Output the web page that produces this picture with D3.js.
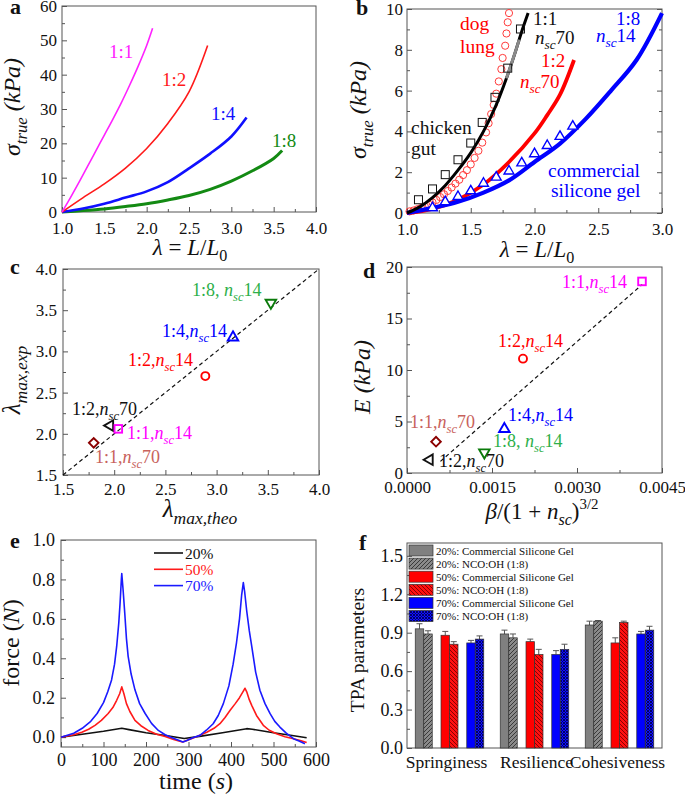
<!DOCTYPE html>
<html><head><meta charset="utf-8">
<script src="https://cdn.jsdelivr.net/npm/d3@7"></script>
<style>
body{margin:0;background:#fff;}
svg{display:block;}
text{font-family:"Liberation Serif","Times New Roman",serif;white-space:pre;}
</style></head><body>
<svg id="fig" width="685" height="799"></svg>
<script>
// ---------------- DATA ----------------
// Panel a: true stress vs stretch
const aCurve11 = [[1,0],[1.1,4.2],[1.2,8.6],[1.3,13.2],[1.4,17.8],[1.5,22.4],[1.6,27],[1.7,31.8],[1.8,37],[1.9,42.5],[2.0,48.5],[2.07,53.5]];
const aCurve12 = [[1,0],[1.25,4.2],[1.5,8.2],[1.75,12.8],[2.0,18.5],[2.25,25.8],[2.5,35],[2.72,48.5]];
const aCurve14 = [[1,0],[1.25,1],[1.5,2.4],[1.75,4.2],[2.0,6],[2.25,8.7],[2.5,12.7],[2.75,17],[3.0,22],[3.18,27.5]];
const aCurve18 = [[1,0],[1.25,0.4],[1.5,0.9],[1.75,1.6],[2.0,2.4],[2.25,3.5],[2.5,4.8],[2.75,6.6],[3.0,9],[3.25,12],[3.5,15.6],[3.6,17.9]];
const aXTicks = [1,1.5,2,2.5,3,3.5,4];
const aYTicks = [0,10,20,30,40,50,60];

// Panel b
const bChickenFit = [[1,0],[1.1,0.3],[1.2,0.75],[1.3,1.35],[1.4,2.1],[1.5,2.95],[1.6,4.0],[1.7,5.3],[1.78,6.6],[1.85,7.9],[1.88,8.5],[1.9,8.9],[1.95,9.8]];
const bChickenGray = [[1.78,6.6],[1.85,7.9],[1.88,8.5]];
const bChickenData = [[1.09,0.65],[1.2,1.18],[1.3,1.88],[1.4,2.61],[1.5,3.43],[1.59,4.44],[1.69,5.67],[1.79,7.1],[1.89,9.02]];
const bDogLung = [[1.02,0.08],[1.05,0.12],[1.08,0.18],[1.11,0.25],[1.14,0.32],[1.17,0.42],[1.2,0.52],[1.23,0.64],[1.26,0.78],[1.29,0.92],[1.32,1.08],[1.35,1.25],[1.38,1.44],[1.41,1.63],[1.44,1.86],[1.47,2.1],[1.5,2.38],[1.53,2.7],[1.56,3.05],[1.59,3.45],[1.62,3.95],[1.64,4.4],[1.66,4.85],[1.68,5.3],[1.7,5.85],[1.72,6.45],[1.74,7.05],[1.75,7.6],[1.77,8.2],[1.78,8.8],[1.79,9.35],[1.8,9.8]];
const bGel12 = [[1,0],[1.2,0.2],[1.4,0.65],[1.6,1.4],[1.8,2.5],[2.0,3.9],[2.1,4.8],[2.2,5.8],[2.31,7.5]];
const bGel18 = [[1,0],[1.2,0.25],[1.4,0.55],[1.6,1.0],[1.8,1.6],[2.0,2.5],[2.2,3.4],[2.4,4.6],[2.6,6.0],[2.8,7.5],[3.0,9.8]];
const bSilicone = [[1.2,0.25],[1.3,0.55],[1.4,0.8],[1.5,1.08],[1.6,1.45],[1.7,1.75],[1.8,2.05],[1.9,2.45],[2.0,2.9],[2.1,3.3],[2.2,3.75],[2.3,4.25]];
const bXTicks = [1,1.5,2,2.5,3];
const bYTicks = [0,2,4,6,8,10];

// Panel c / d : samples
const sampleNames = ['1:8, nsc14','1:4,nsc14','1:2,nsc14','1:2,nsc70','1:1,nsc14','1:1,nsc70'];
const cLambdaTheo = [3.53,3.16,2.89,1.96,2.04,1.80];
const cLambdaExp  = [3.59,3.17,2.70,2.10,2.06,1.89];
const cRefLine = [[1.5,1.5],[4,4]];
const cTicks = [1.5,2,2.5,3,3.5,4];
const dBeta = [0.001365,0.001718,0.002047,0.0004,0.004147,0.000512];
const dE    = [2.0,4.27,11.1,1.29,18.6,3.04];
const dFit  = [[0.00059,1.13],[0.00415,18.3]];
const dXTicks = [0,0.0015,0.003,0.0045];
const dYTicks = [0,5,10,15,20];

// Panel e: force vs time
const e20 = [[0,0],[50,0.015],[100,0.03],[143,0.045],[160,0.038],[200,0.022],[250,0.007],[290,-0.007],[330,0.005],[380,0.022],[437,0.043],[450,0.04],[500,0.022],[540,0.01],[578,-0.003]];
const e50 = [[0,0],[30,0.012],[49,0.025],[65,0.04],[80,0.06],[95,0.085],[111,0.12],[122,0.15],[131,0.187],[138,0.22],[143,0.255],[148,0.22],[154,0.17],[162,0.13],[174,0.085],[188,0.058],[205,0.034],[225,0.015],[245,0.003],[265,-0.012],[286,-0.025],[296,-0.017],[320,0.003],[343,0.025],[360,0.045],[374,0.068],[386,0.1],[398,0.136],[410,0.17],[420,0.2],[428,0.23],[433,0.248],[437,0.23],[443,0.19],[449,0.16],[460,0.11],[476,0.06],[490,0.035],[507,0.017],[527,0.002],[547,-0.008],[565,-0.018],[578,-0.027]];
const e70 = [[0,0],[30,0.02],[50,0.045],[70,0.08],[85,0.12],[100,0.175],[110,0.23],[119,0.29],[126,0.37],[131,0.46],[136,0.58],[139,0.68],[142,0.8],[143,0.83],[146,0.75],[150,0.63],[154,0.5],[158,0.41],[165,0.32],[174,0.24],[185,0.17],[198,0.12],[213,0.07],[229,0.034],[245,0.012],[260,-0.002],[275,-0.015],[287,-0.025],[296,-0.017],[310,-0.003],[327,0.009],[342,0.035],[358,0.068],[370,0.11],[382,0.17],[395,0.26],[405,0.37],[413,0.48],[420,0.6],[425,0.72],[429,0.784],[432,0.74],[437,0.64],[443,0.54],[449,0.458],[458,0.33],[468,0.238],[480,0.17],[492,0.119],[503,0.08],[515,0.051],[530,0.02],[547,-0.008],[560,-0.02],[574,-0.034]];
const eLegend = ['20%','50%','70%'];
const eXTicks = [0,100,200,300,400,500,600];
const eYTicks = [0,0.2,0.4,0.6,0.8,1.0];

// Panel f: TPA parameters
const fCategories = ['Springiness','Resilience','Cohesiveness'];
const fSeries = ['20%: Commercial Silicone Gel','20%: NCO:OH (1:8)','50%: Commercial Silicone Gel','50%: NCO:OH (1:8)','70%: Commercial Silicone Gel','70%: NCO:OH (1:8)'];
const tpa20CS  = [0.93,0.89,0.96], err20CS  = [0.04,0.03,0.03];
const tpa20NCO = [0.89,0.86,0.99], err20NCO = [0.025,0.03,0.005];
const tpa50CS  = [0.88,0.83,0.82], err50CS  = [0.03,0.02,0.04];
const tpa50NCO = [0.81,0.73,0.98], err50NCO = [0.02,0.04,0.01];
const tpa70CS  = [0.82,0.73,0.89], err70CS  = [0.02,0.03,0.02];
const tpa70NCO = [0.85,0.77,0.92], err70NCO = [0.025,0.04,0.03];
const fYTicks = [0,0.3,0.6,0.9,1.2,1.5];

// ---------------- DRAWING ----------------
const FONT = '"Liberation Serif","Times New Roman",serif';
const svg = d3.select('#fig');
const AX = '#555';

function range(a,b,s){const r=[];for(let v=a;v<=b+s/1000;v+=s)r.push(+v.toFixed(6));return r;}

function makePanel(o){
  const x = d3.scaleLinear().domain(o.xd).range([o.l,o.r]);
  const y = d3.scaleLinear().domain(o.yd).range([o.b,o.t]);
  const g = svg.append('g');
  const sty = s=>{s.select('.domain').remove();s.attr('font-family',FONT).attr('font-size',o.fs);s.selectAll('line').attr('stroke',AX);s.selectAll('text').attr('fill','#111');};
  if(o.xMinor) g.append('g').attr('transform',`translate(0,${o.b})`).call(d3.axisBottom(x).tickValues(o.xMinor).tickSize(-3).tickFormat('')).call(sty);
  if(o.xTicks) g.append('g').attr('transform',`translate(0,${o.b})`).call(d3.axisBottom(x).tickValues(o.xTicks).tickSize(-5).tickPadding(o.xPad).tickFormat(o.xFmt)).call(sty);
  if(o.yMinor) g.append('g').attr('transform',`translate(${o.l},0)`).call(d3.axisLeft(y).tickValues(o.yMinor).tickSize(-3).tickFormat('')).call(sty);
  g.append('g').attr('transform',`translate(${o.l},0)`).call(d3.axisLeft(y).tickValues(o.yTicks).tickSize(-5).tickPadding(o.yPad).tickFormat(o.yFmt)).call(sty);
  if(o.rightTicks){
    g.append('g').attr('transform',`translate(${o.r},0)`).call(d3.axisRight(y).tickValues(o.yMinor).tickSize(-3).tickFormat('')).call(sty);
    g.append('g').attr('transform',`translate(${o.r},0)`).call(d3.axisRight(y).tickValues(o.yTicks).tickSize(-5).tickFormat('')).call(sty);
  }
  g.append('rect').attr('x',o.l).attr('y',o.t).attr('width',o.r-o.l).attr('height',o.b-o.t).attr('fill','none').attr('stroke',AX).attr('stroke-width',1);
  return {g,x,y};
}

function rich(g,x,y,parts,opt){
  const fs=opt.fs;
  const t=g.append('text').attr('x',x).attr('y',y).attr('font-size',fs).attr('fill',opt.fill||'#111').attr('text-anchor',opt.anchor||'start');
  if(opt.transform) t.attr('transform',opt.transform);
  let cur=0;
  parts.forEach(([s,k])=>{
    let off=0,size=fs,style='normal';
    if(k==='i') style='italic';
    if(k==='s'){off=fs*0.28;size=fs*0.7;style='italic';}
    if(k==='sr'){off=fs*0.28;size=fs*0.7;}
    if(k==='p'){off=-fs*0.42;size=fs*0.65;}
    t.append('tspan').text(s).attr('font-size',size).attr('font-style',style).attr('dy',(off-cur).toFixed(2));
    cur=off;
  });
  return t;
}
function letter(x,y,s){svg.append('text').attr('x',x).attr('y',y).attr('font-size',22).attr('font-weight','bold').attr('fill','#111').text(s);}
function plain(g,x,y,s,fs,fill){return g.append('text').attr('x',x).attr('y',y).attr('font-size',fs).attr('fill',fill).text(s);}

const sigmaTitle=[['σ','i'],['true','s'],[' (kPa)','i']];
const lamTitle=[['λ','i'],[' = ','r'],['L','i'],['/','r'],['L','i'],['0','sr']];

// ---------- Panel a ----------
{
  const P=makePanel({l:62,r:316,t:6,b:212,xd:[1,4],yd:[0,60],xTicks:aXTicks,xMinor:range(1.25,3.75,0.5),yTicks:aYTicks,yMinor:range(5,55,10),xFmt:d3.format('.1f'),yFmt:d3.format('d'),xPad:10,yPad:5,fs:17});
  const line=d3.line().x(d=>P.x(d[0])).y(d=>P.y(d[1])).curve(d3.curveCatmullRom.alpha(0.5));
  [[aCurve18,'#138a13',3],[aCurve14,'#1010ff',2.6],[aCurve12,'#ff1a1a',1.6],[aCurve11,'#ff22ff',1.6]].forEach(([d,c,w])=>{
    P.g.append('path').attr('d',line(d)).attr('fill','none').attr('stroke',c).attr('stroke-width',w);
  });
  plain(P.g,109,58,'1:1',19,'#ff22ff');
  plain(P.g,162,86,'1:2',19,'#ff1a1a');
  plain(P.g,211,120,'1:4',19,'#1010ff');
  plain(P.g,272,147,'1:8',19,'#138a13');
  rich(svg,0,0,sigmaTitle,{fs:24,anchor:'middle',transform:'translate(20,107) rotate(-90)'});
  rich(svg,190,255,lamTitle,{fs:23,anchor:'middle'});
  letter(10,14,'a');
}

// ---------- Panel b ----------
{
  const P=makePanel({l:407,r:662,t:9,b:213,xd:[1,3],yd:[0,10],xTicks:bXTicks,xMinor:range(1.25,2.75,0.5),yTicks:bYTicks,yMinor:range(1,9,2),xFmt:d3.format('.1f'),yFmt:d3.format('d'),xPad:10,yPad:4,fs:17,rightTicks:true});
  const line=d3.line().x(d=>P.x(d[0])).y(d=>P.y(d[1])).curve(d3.curveCatmullRom.alpha(0.5));
  P.g.selectAll('circle.dl').data(bDogLung).join('circle').attr('cx',d=>P.x(d[0])).attr('cy',d=>P.y(d[1])).attr('r',3.6).attr('fill','none').attr('stroke','#ff3b3b').attr('stroke-width',1);
  P.g.append('path').attr('d',line(bGel12)).attr('fill','none').attr('stroke','#ff0000').attr('stroke-width',3.8);
  P.g.append('path').attr('d',line(bGel18)).attr('fill','none').attr('stroke','#0000ff').attr('stroke-width',4.2);
  P.g.append('path').attr('d',line(bChickenFit)).attr('fill','none').attr('stroke','#000').attr('stroke-width',3);
  P.g.append('path').attr('d',line(bChickenGray)).attr('fill','none').attr('stroke','#8a8a8a').attr('stroke-width',3);
  P.g.selectAll('rect.cg').data(bChickenData).join('rect').attr('x',d=>P.x(d[0])-4).attr('y',d=>P.y(d[1])-4).attr('width',8).attr('height',8).attr('fill','none').attr('stroke','#111').attr('stroke-width',1);
  const tri=d3.symbol().type(d3.symbolTriangle).size(42);
  P.g.selectAll('path.sg').data(bSilicone).join('path').attr('d',tri).attr('transform',d=>`translate(${P.x(d[0])},${P.y(d[1])})`).attr('fill','#fff').attr('stroke','#0000ff').attr('stroke-width',1.4);
  plain(P.g,460,30,'dog',19.5,'#ff0000');
  plain(P.g,460,53,'lung',19.5,'#ff0000');
  plain(P.g,533,25,'1:1',19,'#111');
  rich(P.g,535,44,[['n','i'],['sc','s'],['70','r']],{fs:19,fill:'#111'});
  plain(P.g,541,67,'1:2',19,'#ff0000');
  rich(P.g,520,88,[['n','i'],['sc','s'],['70','r']],{fs:19,fill:'#ff0000'});
  plain(P.g,616,25,'1:8',19,'#0000ff');
  rich(P.g,596,42,[['n','i'],['sc','s'],['14','r']],{fs:19,fill:'#0000ff'});
  plain(P.g,411,134,'chicken',19.5,'#111');
  plain(P.g,411,155,'gut',19.5,'#111');
  plain(P.g,548,177,'commercial',19.5,'#0000ff');
  plain(P.g,551,197,'silicone gel',19.5,'#0000ff');
  rich(svg,0,0,sigmaTitle,{fs:24,anchor:'middle',transform:'translate(366,110) rotate(-90)'});
  rich(svg,537,257,lamTitle,{fs:23,anchor:'middle'});
  letter(356,15,'b');
}

// marker helpers for c / d
const markerColors=['#0a7a0a','#0000ff','#ff0000','#111','#ff00ff','#8b0000'];
const labelColors=['#2eaf4a','#0000ff','#ff0000','#111','#ff00ff','#c8625c'];
function drawMarker(g,i,cx,cy){
  const sw=1.9;
  if(i===2){g.append('circle').attr('cx',cx).attr('cy',cy).attr('r',4).attr('fill','none').attr('stroke',markerColors[i]).attr('stroke-width',sw);return;}
  if(i===4){g.append('rect').attr('x',cx-3.8).attr('y',cy-3.8).attr('width',7.6).attr('height',7.6).attr('fill','none').attr('stroke',markerColors[i]).attr('stroke-width',sw);return;}
  let type=d3.symbolTriangle,rot=0,size=48;
  if(i===0) rot=180;
  if(i===3) rot=-90;
  if(i===5){type=d3.symbolSquare;rot=45;size=46;}
  g.append('path').attr('d',d3.symbol().type(type).size(size)()).attr('transform',`translate(${cx},${cy}) rotate(${rot})`).attr('fill','none').attr('stroke',markerColors[i]).attr('stroke-width',sw);
}
function sampleLabel(g,i,x,y,fs){
  const nm=sampleNames[i];
  const k=nm.indexOf('nsc');
  rich(g,x,y,[[nm.slice(0,k),'r'],['n','i'],['sc','s'],[nm.slice(k+3),'r']],{fs:fs,fill:labelColors[i]});
}

// ---------- Panel c ----------
{
  const P=makePanel({l:63,r:319,t:269,b:475,xd:[1.5,4],yd:[1.5,4],xTicks:cTicks,xMinor:range(1.75,3.75,0.5),yTicks:cTicks,yMinor:range(1.75,3.75,0.5),xFmt:d3.format('.1f'),yFmt:d3.format('.1f'),xPad:8,yPad:6,fs:17});
  P.g.append('path').attr('d',d3.line().x(d=>P.x(d[0])).y(d=>P.y(d[1]))(cRefLine)).attr('stroke','#111').attr('stroke-width',1.2).attr('stroke-dasharray','4,3').attr('fill','none');
  cLambdaTheo.forEach((v,i)=>drawMarker(P.g,i,P.x(v),P.y(cLambdaExp[i])));
  const pos=[[192,296],[162,337],[128,366],[72,415],[127,439],[95,463]];
  pos.forEach((p,i)=>sampleLabel(P.g,i,p[0],p[1],18));
  rich(svg,0,0,[['λ','i'],['max,exp','s']],{fs:25,anchor:'middle',transform:'translate(20,380) rotate(-90)'});
  rich(svg,200,517,[['λ','i'],['max,theo','s']],{fs:25,anchor:'middle'});
  letter(10,274,'c');
}

// ---------- Panel d ----------
{
  const P=makePanel({l:407,r:662,t:267,b:473,xd:[0,0.0045],yd:[0,20],xTicks:dXTicks,xMinor:range(0.00075,0.00375,0.0015),yTicks:dYTicks,yMinor:range(2.5,17.5,5),xFmt:d3.format('.4f'),yFmt:d3.format('d'),xPad:8,yPad:4,fs:17});
  P.g.append('path').attr('d',d3.line().x(d=>P.x(d[0])).y(d=>P.y(d[1]))(dFit)).attr('stroke','#111').attr('stroke-width',1.2).attr('stroke-dasharray','4,3').attr('fill','none');
  dBeta.forEach((v,i)=>drawMarker(P.g,i,P.x(v),P.y(dE[i])));
  const pos=[[493,447],[508,421],[498,347],[439,467],[562,288],[410,428]];
  pos.forEach((p,i)=>sampleLabel(P.g,i,p[0],p[1],18));
  rich(svg,0,0,[['E','i'],[' (kPa)','i']],{fs:24,anchor:'middle',transform:'translate(370,377) rotate(-90)'});
  rich(svg,542,519,[['β','i'],['/(1 + ','r'],['n','i'],['sc','s'],[')','r'],['3/2','p']],{fs:23,anchor:'middle'});
  letter(363,278,'d');
}

// ---------- Panel e ----------
{
  const P=makePanel({l:61,r:316,t:540,b:747,xd:[0,600],yd:[-0.05,1.0],xTicks:eXTicks,xMinor:range(50,550,100),yTicks:eYTicks,yMinor:range(0.1,0.9,0.2),xFmt:d3.format('d'),yFmt:d3.format('.1f'),xPad:6,yPad:6,fs:18});
  const line=d3.line().x(d=>P.x(d[0])).y(d=>P.y(d[1]));
  const cols=['#111','#ff1a1a','#1a1aff'];
  [e20,e50,e70].forEach((d,i)=>P.g.append('path').attr('d',line(d)).attr('fill','none').attr('stroke',cols[i]).attr('stroke-width',1.6).attr('stroke-linejoin','round'));
  eLegend.forEach((s,i)=>{
    const yy=553+i*16.3;
    P.g.append('line').attr('x1',154).attr('x2',183).attr('y1',yy).attr('y2',yy).attr('stroke',cols[i]).attr('stroke-width',1.6);
    plain(P.g,185,yy+5.5,s,15.5,cols[i]);
  });
  rich(svg,0,0,[['force (','r'],['N','i'],[')','r']],{fs:24,anchor:'middle',transform:'translate(19,643) rotate(-90)'});
  rich(svg,196,789,[['time (','r'],['s','i'],[')','r']],{fs:24,anchor:'middle'});
  letter(10,548,'e');
}

// ---------- Panel f ----------
{
  const P=makePanel({l:407,r:662,t:543,b:748,xd:[0,1],yd:[0,1.6],yTicks:fYTicks,yMinor:range(0.15,1.45,0.3),yFmt:d3.format('.1f'),yPad:4,fs:18});
  const defs=svg.append('defs');
  const mkPat=(id,bg,fg,paths,size)=>{
    const p=defs.append('pattern').attr('id',id).attr('patternUnits','userSpaceOnUse').attr('width',size).attr('height',size);
    p.append('rect').attr('width',size).attr('height',size).attr('fill',bg);
    p.append('path').attr('d',paths).attr('stroke',fg).attr('stroke-width',1).attr('fill','none');
  };
  mkPat('hGray','#8a8a8a','#3a3a3a','M-1,1 L1,-1 M0,4 L4,0 M3,5 L5,3',4);
  mkPat('hRed','#ff1010','#8a0000','M-1,3 L1,5 M0,0 L4,4 M3,-1 L5,1',4);
  mkPat('hBlue','#1010ff','#00006a','M0,0 L3,3 M0,3 L3,0',3);
  const fills=['#808080','url(#hGray)','#ff0000','url(#hRed)','#0000ff','url(#hBlue)'];
  const vals=[tpa20CS,tpa20NCO,tpa50CS,tpa50NCO,tpa70CS,tpa70NCO];
  const errs=[err20CS,err20NCO,err50CS,err50NCO,err70CS,err70NCO];
  const x0=d3.scaleBand().domain(fCategories).range([407,662]).padding(0);
  const x1=d3.scaleBand().domain(['20%','50%','70%']).range([0,x0.bandwidth()]).paddingInner(0.34).paddingOuter(0.32);
  const x2=d3.scaleBand().domain(['cs','nco']).range([0,x1.bandwidth()]).padding(0);
  const groups=['20%','20%','50%','50%','70%','70%'], kinds=['cs','nco','cs','nco','cs','nco'];
  const labelDx=[-3,2,-2];
  fCategories.forEach((c,ci)=>{
    vals.forEach((v,si)=>{
      const bx=x0(c)+x1(groups[si])+x2(kinds[si]), bw=x2.bandwidth(), cx=bx+bw/2;
      const yt=P.y(v[ci]), ye=P.y(v[ci]+errs[si][ci]);
      P.g.append('line').attr('x1',cx).attr('x2',cx).attr('y1',yt).attr('y2',ye).attr('stroke','#555').attr('stroke-width',1);
      P.g.append('line').attr('x1',cx-3).attr('x2',cx+3).attr('y1',ye).attr('y2',ye).attr('stroke','#555').attr('stroke-width',1);
      P.g.append('rect').attr('x',bx).attr('y',yt).attr('width',bw).attr('height',P.y(0)-yt).attr('fill',fills[si]).attr('stroke','#333').attr('stroke-width',0.7);
    });
    P.g.append('text').attr('x',x0(c)+x0.bandwidth()/2+labelDx[ci]).attr('y',768).attr('text-anchor','middle').attr('font-size',17.5).attr('fill','#111').text(c);
  });
  fSeries.forEach((s,i)=>{
    const yy=545+i*13.1;
    P.g.append('rect').attr('x',409).attr('y',yy).attr('width',24).attr('height',11).attr('fill',fills[i]).attr('stroke','#333').attr('stroke-width',0.7);
    plain(P.g,436,yy+9.5,s,11,'#111');
  });
  svg.append('text').attr('transform','translate(364,650) rotate(-90)').attr('text-anchor','middle').attr('font-size',19.5).attr('fill','#111').text('TPA parameters');
  letter(359,550,'f');
}
</script>
</body></html>
